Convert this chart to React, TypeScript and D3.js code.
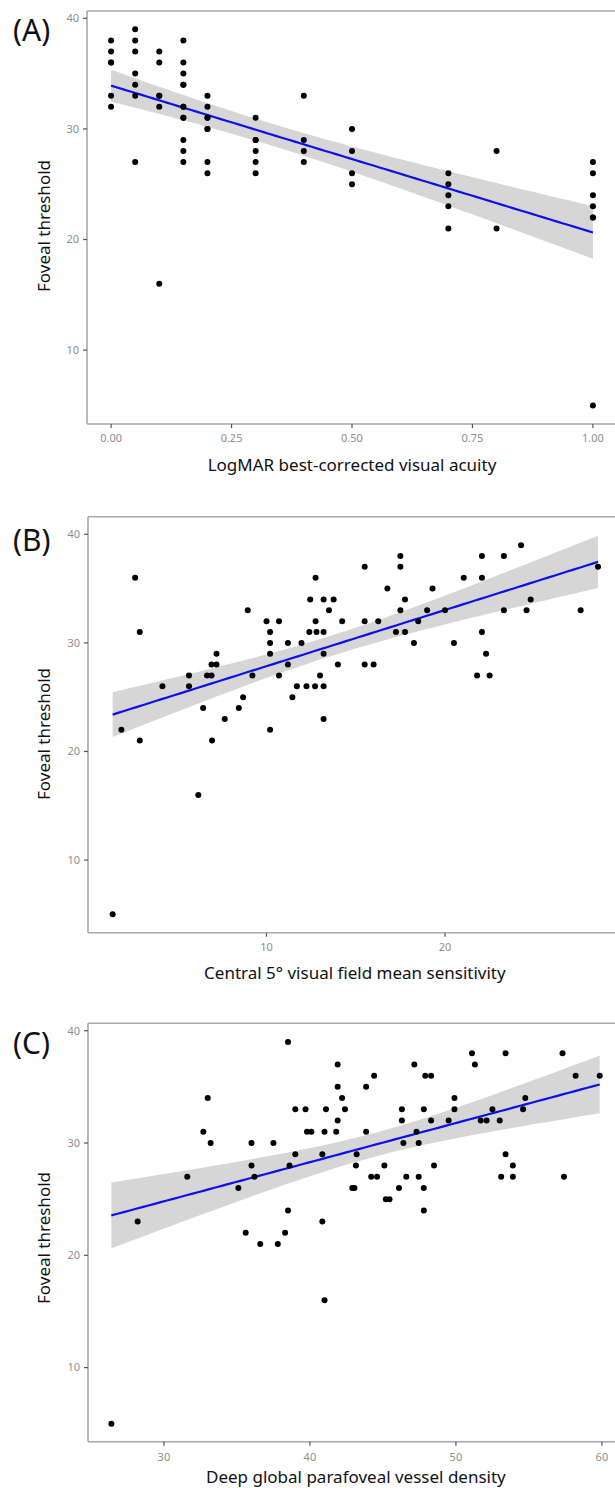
import React from "react";
import * as d3 from "d3";

// ---------- Panel A: LogMAR BCVA vs foveal threshold ----------
const acuityLevels = [0, 0.05, 0.1, 0.15, 0.2, 0.3, 0.4, 0.5, 0.7, 0.8, 1.0];
const thresholdsByAcuity = [
  [38, 37, 36, 36, 33, 32],
  [39, 38, 37, 35, 34, 33, 27],
  [37, 36, 33, 33, 32, 16],
  [38, 36, 35, 34, 34, 32, 32, 31, 31, 29, 28, 27],
  [33, 32, 31, 31, 30, 30, 27, 26],
  [31, 29, 29, 28, 27, 26],
  [33, 29, 28, 27],
  [30, 28, 26, 25],
  [26, 25, 24, 23, 21],
  [28, 21],
  [27, 26, 24, 23, 22, 22, 5],
];
const aX: number[] = [];
const aY: number[] = [];
acuityLevels.forEach((lv, i) => thresholdsByAcuity[i].forEach((t) => { aX.push(lv); aY.push(t); }));

// ---------- Panel B: central 5° VF mean sensitivity ----------
const bX = [1.38, 1.87, 2.64, 2.9, 2.9, 4.17, 5.66, 5.66, 6.18, 6.45, 6.67, 6.92, 6.92, 7.2, 7.2, 6.95, 7.66, 8.45, 8.69, 8.95, 9.21,
  10.0, 10.2, 10.2, 10.2, 10.2, 10.7, 10.7, 11.2, 11.2, 11.45, 11.7, 11.96, 12.24, 12.45, 12.4, 12.75, 12.75, 12.8, 12.72, 13.0,
  13.2, 13.2, 13.2, 13.2, 13.2, 13.5, 13.76, 14.0, 14.24, 15.5, 15.5, 15.5, 16.0, 16.26, 16.77, 17.25, 17.5, 17.5, 17.5, 17.76,
  17.76, 18.26, 18.5, 19.0, 19.3, 20.0, 20.5, 21.05, 21.8, 22.07, 22.07, 22.07, 22.3, 22.5, 23.3, 23.3, 24.26, 24.57, 24.8, 27.6, 28.57];
const bY = [5, 22, 36, 31, 21, 26, 27, 26, 16, 24, 27, 27, 28, 28, 29, 21, 23, 24, 25, 33, 27,
  32, 31, 30, 29, 22, 32, 27, 30, 28, 25, 26, 30, 26, 34, 31, 36, 32, 31, 26, 27,
  34, 31, 29, 26, 23, 33, 34, 28, 32, 37, 32, 28, 28, 32, 35, 31, 38, 37, 33, 34,
  31, 30, 32, 33, 35, 33, 30, 36, 27, 38, 36, 31, 29, 27, 38, 33, 39, 33, 34, 33, 37];

// ---------- Panel C: deep global parafoveal vessel density ----------
const cX = [26.4, 28.2, 31.6, 32.7, 33.0, 33.2, 35.1, 35.6, 36.0, 36.0, 36.2, 36.6, 37.5, 37.8, 38.3, 38.5, 38.5, 38.6, 39.0, 39.0,
  39.7, 39.8, 40.1, 40.85, 40.85, 41.0, 41.0, 41.1, 41.8, 41.9, 41.9, 41.9, 42.2, 42.4, 42.9, 43.05, 43.15, 43.2, 43.85, 43.85,
  44.2, 44.4, 44.6, 45.1, 45.2, 45.45, 46.1, 46.3, 46.3, 46.4, 46.6, 47.15, 47.3, 47.45, 47.45, 47.8, 47.8, 47.8, 47.9, 48.3,
  48.3, 48.5, 49.5, 49.9, 49.9, 51.1, 51.3, 51.7, 52.1, 52.5, 53.0, 53.1, 53.4, 53.4, 53.9, 53.9, 54.6, 54.75, 57.3, 57.4, 58.2, 59.85];
const cY = [5, 23, 27, 31, 34, 30, 26, 22, 30, 28, 27, 21, 30, 21, 22, 24, 39, 28, 33, 29,
  33, 31, 31, 29, 23, 31, 16, 33, 31, 37, 35, 32, 34, 33, 26, 26, 28, 29, 35, 31,
  27, 36, 27, 28, 25, 25, 26, 33, 32, 30, 27, 37, 31, 30, 27, 33, 26, 24, 36, 36,
  32, 28, 32, 34, 33, 38, 37, 32, 32, 33, 32, 27, 38, 29, 28, 27, 33, 34, 38, 27, 36, 36];

// ---------- ticks ----------
const yTicks = [10, 20, 30, 40];
const aXTicks = [0, 0.25, 0.5, 0.75, 1.0];
const bXTicks = [10, 20];
const cXTicks = [30, 40, 50, 60];

const yTitle = "Foveal threshold";

function tQuantile975(df: number) {
  const z = 1.959964;
  return z + (z * z * z + z) / (4 * df) + (5 * z ** 5 + 16 * z ** 3 + 3 * z) / (96 * df * df);
}

function lmFit(xs: number[], ys: number[], nPts = 80) {
  const n = xs.length;
  const mx = d3.mean(xs)!;
  const my = d3.mean(ys)!;
  let sxx = 0, sxy = 0;
  for (let i = 0; i < n; i++) { sxx += (xs[i] - mx) ** 2; sxy += (xs[i] - mx) * (ys[i] - my); }
  const b = sxy / sxx;
  const a = my - b * mx;
  let sse = 0;
  for (let i = 0; i < n; i++) sse += (ys[i] - a - b * xs[i]) ** 2;
  const s = Math.sqrt(sse / (n - 2));
  const t = tQuantile975(n - 2);
  const [x0, x1] = d3.extent(xs) as [number, number];
  return d3.range(nPts).map((i) => {
    const x = x0 + ((x1 - x0) * i) / (nPts - 1);
    const yh = a + b * x;
    const se = s * Math.sqrt(1 / n + (x - mx) ** 2 / sxx);
    return { x, y: yh, lo: yh - t * se, hi: yh + t * se };
  });
}

type PanelCfg = {
  label: string; xs: number[]; ys: number[]; xTicks: number[]; fmt: (v: number) => string; xTitle: string;
  top: number; bottom: number; xDomain: [number, number]; xRange: [number, number]; yDomain: [number, number];
  labelY: number; yTitleCy: number; tickLabelY: number; xTitleY: number;
};

const FONT = "'Noto Sans', 'DejaVu Sans', sans-serif";
const AXIS = "#a9a9a9";
const TICKTXT = "#8e8e8e";

function Panel({ c }: { c: PanelCfg }) {
  const x = d3.scaleLinear().domain(c.xDomain).range(c.xRange);
  const y = d3.scaleLinear().domain(c.yDomain).range([c.bottom, c.top]);
  const fit = lmFit(c.xs, c.ys);
  const area = d3.area<any>().x((d) => x(d.x)).y0((d) => y(d.lo)).y1((d) => y(d.hi));
  const line = d3.line<any>().x((d) => x(d.x)).y((d) => y(d.y));
  const left = c.xRange[0];
  const right = c.xRange[1];
  const cx = (left + right) / 2;
  return (
    <g>
      <text x={13} y={c.labelY} fontSize={30} fontFamily={FONT} fill="#111">{c.label}</text>
      {/* frame */}
      <line x1={left} x2={right} y1={c.top} y2={c.top} stroke={AXIS} strokeWidth={1.6} />
      <line x1={left} x2={left} y1={c.top} y2={c.bottom} stroke={AXIS} strokeWidth={1.6} />
      <line x1={left} x2={right} y1={c.bottom} y2={c.bottom} stroke={AXIS} strokeWidth={1.6} />
      {/* y ticks */}
      {yTicks.map((t) => (
        <g key={"y" + t}>
          <line x1={left - 4} x2={left} y1={y(t)} y2={y(t)} stroke="#555" strokeWidth={1.2} />
          <text x={left - 8} y={y(t)} dy="0.35em" textAnchor="end" fontSize={11} fontFamily={FONT} fill={TICKTXT}>{t}</text>
        </g>
      ))}
      {/* x ticks */}
      {c.xTicks.map((t) => (
        <g key={"x" + t}>
          <line x1={x(t)} x2={x(t)} y1={c.bottom} y2={c.bottom + 4} stroke="#555" strokeWidth={1.2} />
          <text x={x(t)} y={c.tickLabelY} dy="0.35em" textAnchor="middle" fontSize={11} fontFamily={FONT} fill={TICKTXT}>{c.fmt(t)}</text>
        </g>
      ))}
      {/* ribbon + line */}
      <path d={area(fit)!} fill="#d6d6d6" />
      <path d={line(fit)!} fill="none" stroke="#0c12e6" strokeWidth={2.2} />
      {/* points */}
      {c.xs.map((v, i) => (
        <circle key={i} cx={x(v)} cy={y(c.ys[i])} r={3} fill="#000" />
      ))}
      {/* titles */}
      <text x={cx} y={c.xTitleY} dy="0.35em" textAnchor="middle" fontSize={17} fontFamily={FONT} fill="#111">{c.xTitle}</text>
      <text transform={`translate(44,${c.yTitleCy}) rotate(-90)`} dy="0.35em" textAnchor="middle" fontSize={17} fontFamily={FONT} fill="#111">{yTitle}</text>
    </g>
  );
}

const panels: PanelCfg[] = [
  {
    label: "(A)", xs: aX, ys: aY, xTicks: aXTicks, fmt: d3.format(".2f"), xTitle: "LogMAR best-corrected visual acuity",
    top: 11, bottom: 424, xDomain: [-0.05, 1.05], xRange: [87, 617], yDomain: [3.32, 40.66],
    labelY: 41, yTitleCy: 226, tickLabelY: 438, xTitleY: 465,
  },
  {
    label: "(B)", xs: bX, ys: bY, xTicks: bXTicks, fmt: d3.format("d"), xTitle: "Central 5° visual field mean sensitivity",
    top: 516.7, bottom: 932.7, xDomain: [0, 29.9], xRange: [88, 88 + 29.9 * 17.85], yDomain: [3.31, 41.62],
    labelY: 551, yTitleCy: 734, tickLabelY: 947, xTitleY: 973,
  },
  {
    label: "(C)", xs: cX, ys: cY, xTicks: cXTicks, fmt: d3.format("d"), xTitle: "Deep global parafoveal vessel density",
    top: 1023.3, bottom: 1441.7, xDomain: [24.8, 61.5], xRange: [88, 88 + 36.7 * 14.6], yDomain: [3.4, 40.66],
    labelY: 1054, yTitleCy: 1238, tickLabelY: 1457, xTitleY: 1477,
  },
];

export default function App() {
  return (
    <svg width={615} height={1488} viewBox="0 0 615 1488"
      style={{ position: "absolute", left: 0, top: 0, background: "#fff", display: "block" }}>
      <rect width={615} height={1488} fill="#fff" />
      {panels.map((p) => <Panel key={p.label} c={p} />)}
    </svg>
  );
}
